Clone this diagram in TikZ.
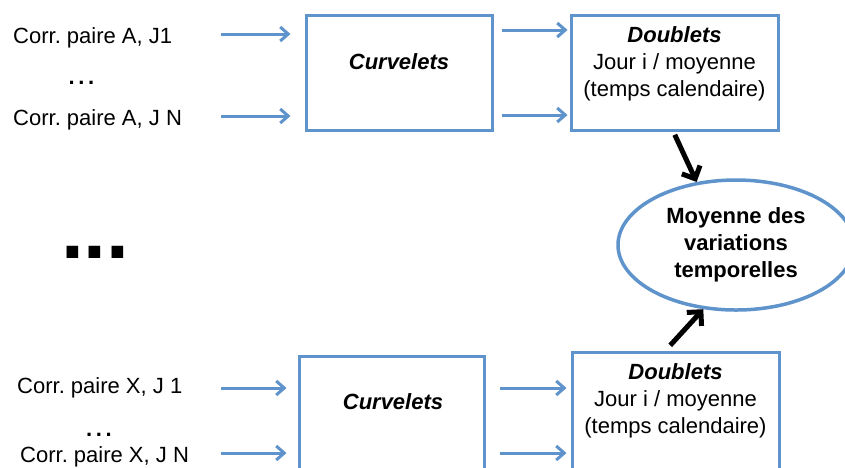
\documentclass[tikz,border=0pt]{standalone}
\usepackage{fontspec}
\setmainfont{Liberation Sans}
\usetikzlibrary{arrows.meta,shapes.geometric}
\definecolor{boxblue}{RGB}{95,147,203}
\newcommand\txt{\fontsize{22}{27}\selectfont}
\frenchspacing

\begin{document}
\begin{tikzpicture}[x=1pt,y=-1pt,
  box/.style={draw=boxblue,line width=3pt,inner sep=0pt},
  lbl/.style={font=\txt,inner sep=0pt,anchor=base west},
  barrow/.style={draw=boxblue,line width=3pt,-{Straight Barb[length=8pt,width=14pt]}},
  karrow/.style={line width=5pt,-{Straight Barb[length=10pt,width=20pt]}}]
 \clip[use as bounding box] (0,0) rectangle (845,467);
 \fill[white] (0,0) rectangle (845,467);
 % upper chain
 \node[box,minimum width=186pt,minimum height=115pt] (cA) at (399,73) {};
 \node[box,minimum width=207pt,minimum height=115pt] (dA) at (674.5,73) {};
 \node[font=\txt\bfseries\itshape] (tcA) at (399,62) {Curvelets};
 \node[font=\txt,align=center] (tdA) at (674.5,64) {\textbf{\textit{Doublets}}\\Jour i / moyenne\\(temps calendaire)};
 \node[lbl] (lA1) at (13,43) {Corr. paire A, J1};
 \node[font=\txt\bfseries,inner sep=0pt,anchor=base] (pA) at (81.5,84) {.\,.\,.};
 \node[lbl] (lAN) at (13,125) {Corr. paire A, J N};
 % lower chain
 \node[box,minimum width=185pt,minimum height=122pt] (cB) at (391.5,417) {};
 \node[box,minimum width=207pt,minimum height=126pt] (dB) at (675.5,415) {};
 \node[font=\txt\bfseries\itshape] (tcB) at (393,402) {Curvelets};
 \node[font=\txt,align=center] (tdB) at (675.5,401) {\textbf{\textit{Doublets}}\\Jour i / moyenne\\(temps calendaire)};
 \node[lbl] (lX1) at (17,393) {Corr. paire X, J 1};
 \node[font=\txt\bfseries,inner sep=0pt,anchor=base] (pX) at (99,436) {.\,.\,.};
 \node[lbl] (lXN) at (20,462) {Corr. paire X, J N};
 \node[font=\fontsize{82}{82}\selectfont\bfseries,inner sep=0pt,anchor=base west] (gap) at (61,258) {...};
 \node[ellipse,draw=boxblue,line width=3.5pt,inner sep=0pt,minimum width=236pt,minimum height=130pt,
   font=\txt\bfseries,align=center] (ell) at (736,245) {Moyenne des\\variations\\temporelles};
 % arrows
 \foreach \n/\x/\y in {a1/221/34,a2/221/116,x1/221/388,x2/221/453} \coordinate (\n) at (\x,\y);
 \foreach \n/\y in {h1/30,h2/115,h3/388,h4/453} \coordinate (\n) at (0,\y);
 \draw[barrow,shorten >=14pt] (a1) -- (a1 -| cA.west);
 \draw[barrow,shorten >=14pt] (a2) -- (a2 -| cA.west);
 \draw[barrow,shorten >=11pt] (x1) -- (x1 -| cB.west);
 \draw[barrow,shorten >=11pt] (x2) -- (x2 -| cB.west);
 \draw[barrow,shorten <=8pt,shorten >=2pt] (cA.east |- h1) -- (dA.west |- h1);
 \draw[barrow,shorten <=8pt,shorten >=2pt] (cA.east |- h2) -- (dA.west |- h2);
 \draw[barrow,shorten <=14pt,shorten >=4pt] (cB.east |- h3) -- (dB.west |- h3);
 \draw[barrow,shorten <=14pt,shorten >=4pt] (cB.east |- h4) -- (dB.west |- h4);
 \draw[karrow,shorten <=3pt] ([xshift=-1pt]dA.south) -- (ell.122);
 \draw[karrow,shorten <=7pt] ([xshift=-10pt]dB.north) -- (ell.243);
\end{tikzpicture}
\end{document}
